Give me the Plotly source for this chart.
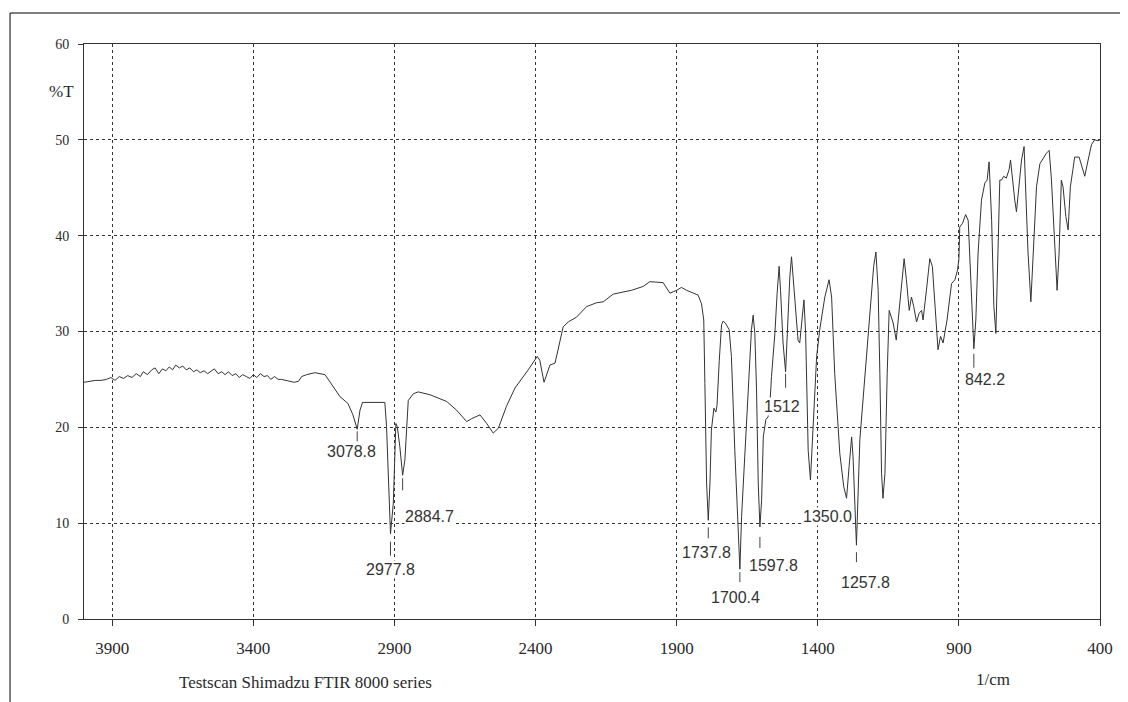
import plotly.graph_objects as go

# ---------------- data ----------------
wavenumber = [4000,3980,3960,3940,3920,3905,3890,3875,3860,3845,3830,3815,3800,3790,3775,3760,3748,3735,3722,3710,
              3698,3686,3675,3662,3650,3638,3625,3612,3600,3588,3575,3562,3550,3538,3525,3512,3500,3488,3475,3462,
              3450,3438,3425,3412,3400,3388,3375,3362,3350,3338,3325,3312,3300,3285,3270,3255,3240,3229,3211,3182,
              3146,3118,3093,3065,3047,3032,3022,3013,2934,2928,2914,2904,2895,2890,2881,2871,2863,2851,2833,2816,
              2774,2715,2680,2644,2627,2597,2573,2550,2532,2503,2473,2426,2408,2394,2385,2370,2349,2331,2302,2284,
              2255,2219,2184,2160,2125,2090,2060,2019,1995,1948,1924,1900,1883,1865,1842,1824,1812,1804,1800,1794,
              1788,1782,1777,1768,1761,1757,1749,1741,1735,1726,1714,1706,1694,1682,1676,1670,1658,1647,1635,1629,
              1623,1617,1611,1605,1599,1593,1584,1576,1570,1564,1552,1544,1537,1532,1523,1514,1509,1499,1493,1485,
              1475,1470,1464,1458,1449,1443,1434,1426,1416,1404,1393,1375,1360,1351,1340,1322,1308,1298,1289,1280,
              1275,1263,1251,1233,1216,1202,1194,1186,1180,1174,1169,1162,1154,1147,1133,1122,1115,1103,1094,1086,
              1076,1068,1060,1050,1041,1032,1027,1015,1003,994,985,974,965,956,942,926,914,905,900,897,
              887,876,867,859,847,840,832,820,808,800,793,784,776,769,761,755,749,741,732,722,
              717,710,702,696,687,678,669,663,655,645,637,625,613,602,590,580,572,560,552,545,
              537,531,521,513,505,496,490,474,462,454,442,430,419,407,400]

transmittance = [24.7,24.8,24.9,24.9,25.0,25.2,24.9,25.3,25.1,25.4,25.2,25.6,25.3,25.8,25.5,26.0,26.2,25.6,26.1,25.9,
                 26.3,26.0,26.5,26.2,26.4,26.0,26.2,25.8,26.0,25.7,25.9,25.6,25.9,26.1,25.6,25.8,25.5,25.8,25.4,25.6,
                 25.2,25.5,25.3,25.1,25.5,25.2,25.6,25.3,25.4,25.0,25.3,25.0,25.0,24.9,24.8,24.7,24.8,25.3,25.5,25.7,
                 25.5,24.3,23.2,22.5,21.3,19.8,21.8,22.6,22.6,20.1,8.9,12.1,20.4,20.1,18.0,15.0,16.6,22.8,23.5,23.7,
                 23.4,22.7,21.8,20.6,20.9,21.3,20.4,19.4,19.9,22.2,24.1,26.0,26.8,27.4,27.0,24.7,26.5,26.7,30.5,31.0,
                 31.5,32.6,33.0,33.1,33.9,34.1,34.3,34.7,35.2,35.1,34.0,34.3,34.6,34.3,34.0,33.8,32.9,31.2,24.6,14.2,
                 10.3,14.2,19.7,22.0,21.6,22.3,27.0,30.7,31.1,30.8,30.2,27.4,17.6,10.0,5.2,10.7,17.6,23.9,30.2,31.7,
                 29.8,23.9,14.2,9.6,12.4,19.0,20.8,21.1,22.2,25.3,29.8,34.0,36.8,34.3,28.8,25.8,29.8,35.7,37.8,35.0,
                 31.5,29.1,28.8,30.5,33.3,29.8,17.6,14.5,20.4,27.4,30.2,33.6,35.4,33.6,25.6,17.3,13.8,12.6,15.9,19.0,
                 16.9,7.7,18.7,25.6,31.9,36.8,38.3,34.3,25.6,15.2,12.6,15.2,25.6,32.2,30.9,29.1,31.2,34.7,37.6,35.4,
                 32.2,33.6,32.6,31.0,31.9,32.2,31.2,34.3,37.6,36.8,32.6,28.1,29.5,28.8,31.2,35.0,35.4,36.4,37.5,40.9,
                 41.3,42.2,41.6,36.4,28.2,31.2,38.2,43.7,45.5,45.8,47.7,41.6,32.6,29.8,38.2,45.8,45.8,46.2,46.0,46.9,
                 47.9,45.8,43.7,42.5,45.1,47.9,49.3,45.1,38.2,33.1,38.2,45.1,47.5,48.1,48.6,48.9,45.8,38.9,34.3,38.2,
                 45.8,45.1,42.0,40.6,45.1,46.9,48.2,48.2,46.9,46.2,47.9,49.5,50.0,49.9,50.0]

peak_labels = ["3078.8", "2977.8", "2884.7", "1737.8", "1700.4", "1597.8", "1512", "1350.0", "1257.8", "842.2"]
peak_wn = [3032, 2914, 2871, 1788, 1676, 1605, 1514, 1298, 1263, 847]
peak_T = [19.8, 8.9, 15.0, 10.3, 5.2, 9.6, 25.8, 12.6, 7.7, 28.2]

x_ticks = [3900, 3400, 2900, 2400, 1900, 1400, 900, 400]
y_ticks = [0, 10, 20, 30, 40, 50, 60]

# ---------------- style (pixel offsets for the peak marks) ----------------
# label: (tick gap, tick end, label dx, label dy)   in px, downward positive
mark_style = {
    "3078.8": (2, 12, -6, 22),
    "2977.8": (8, 22, 0, 36),
    "2884.7": (3, 15, 27, 41),
    "1737.8": (7, 18, -2, 32),
    "1700.4": (3, 13, -4, 28),
    "1597.8": (10, 21, 14, 38),
    "1512": (2, 16, -4, 35),
    "1350.0": (None, None, -19, 18),
    "1257.8": (7, 17, 9, 37),
    "842.2": (5, 19, 11, 31),
}

SERIF = "Liberation Serif, Times New Roman, serif"
SANS = "Liberation Sans, Arial, sans-serif"
INK = "#2a2a2a"

fig = go.Figure()
fig.add_trace(go.Scatter(x=wavenumber, y=transmittance, mode="lines",
                         line=dict(color="#333333", width=1), hoverinfo="skip", showlegend=False))

shapes = []
annotations = []
for lab, wn, t in zip(peak_labels, peak_wn, peak_T):
    g0, g1, dx, dy = mark_style[lab]
    if g0 is not None:
        shapes.append(dict(type="line", xref="x", yref="y", x0=wn, x1=wn,
                           ysizemode="pixel", yanchor=t, y0=-g0, y1=-g1,
                           line=dict(color="#444444", width=1)))
    annotations.append(dict(x=wn, y=t, xref="x", yref="y", text=lab, showarrow=False,
                            xanchor="center", yanchor="middle", xshift=dx, yshift=-dy,
                            bgcolor="white", borderpad=0,
                            font=dict(family=SANS, size=16, color="#333333")))

# outer frame (left and top)
shapes.append(dict(type="line", xref="paper", yref="paper", x0=-0.0728, x1=-0.0728, y0=-0.16, y1=1.0539,
                   line=dict(color="black", width=1)))
shapes.append(dict(type="line", xref="paper", yref="paper", x0=-0.0728, x1=1.03, y0=1.0539, y1=1.0539,
                   line=dict(color="black", width=1)))

annotations += [
    dict(x=-0.0226, y=0.918, xref="paper", yref="paper", text="%T", showarrow=False,
         xanchor="center", yanchor="middle", font=dict(family=SERIF, size=17, color=INK)),
    dict(x=0.2185, y=-0.1096, xref="paper", yref="paper", text="Testscan Shimadzu FTIR 8000 series",
         showarrow=False, xanchor="center", yanchor="middle", font=dict(family=SERIF, size=17, color=INK)),
    dict(x=0.8947, y=-0.106, xref="paper", yref="paper", text="1/cm", showarrow=False,
         xanchor="center", yanchor="middle", font=dict(family=SERIF, size=17, color=INK)),
]

# the page body adds an 8 px margin, so the figure is 8 px smaller and margins shifted
fig.update_layout(
    width=1120, height=694,
    margin=dict(l=76, r=28, t=36, b=83),
    paper_bgcolor="white", plot_bgcolor="white",
    shapes=shapes, annotations=annotations,
    showlegend=False,
)
fig.update_xaxes(range=[4000, 400], tickvals=x_ticks, ticktext=[str(v) for v in x_ticks],
                 showline=True, mirror=True, linecolor="#333333", linewidth=1,
                 ticks="outside", ticklen=6, tickcolor="#333333",
                 showgrid=True, gridcolor="#333333", gridwidth=1, griddash="3px,3px",
                 zeroline=False, ticklabelstandoff=8,
                 tickfont=dict(family=SERIF, size=17, color=INK))
fig.update_yaxes(range=[0, 60], tickvals=y_ticks,
                 showline=True, mirror=True, linecolor="#333333", linewidth=1,
                 ticks="outside", ticklen=5, tickcolor="#333333",
                 showgrid=True, gridcolor="#333333", gridwidth=1, griddash="3px,3px",
                 zeroline=False, ticklabelstandoff=6,
                 tickfont=dict(family=SERIF, size=14, color=INK))

fig.write_html("out.html")
